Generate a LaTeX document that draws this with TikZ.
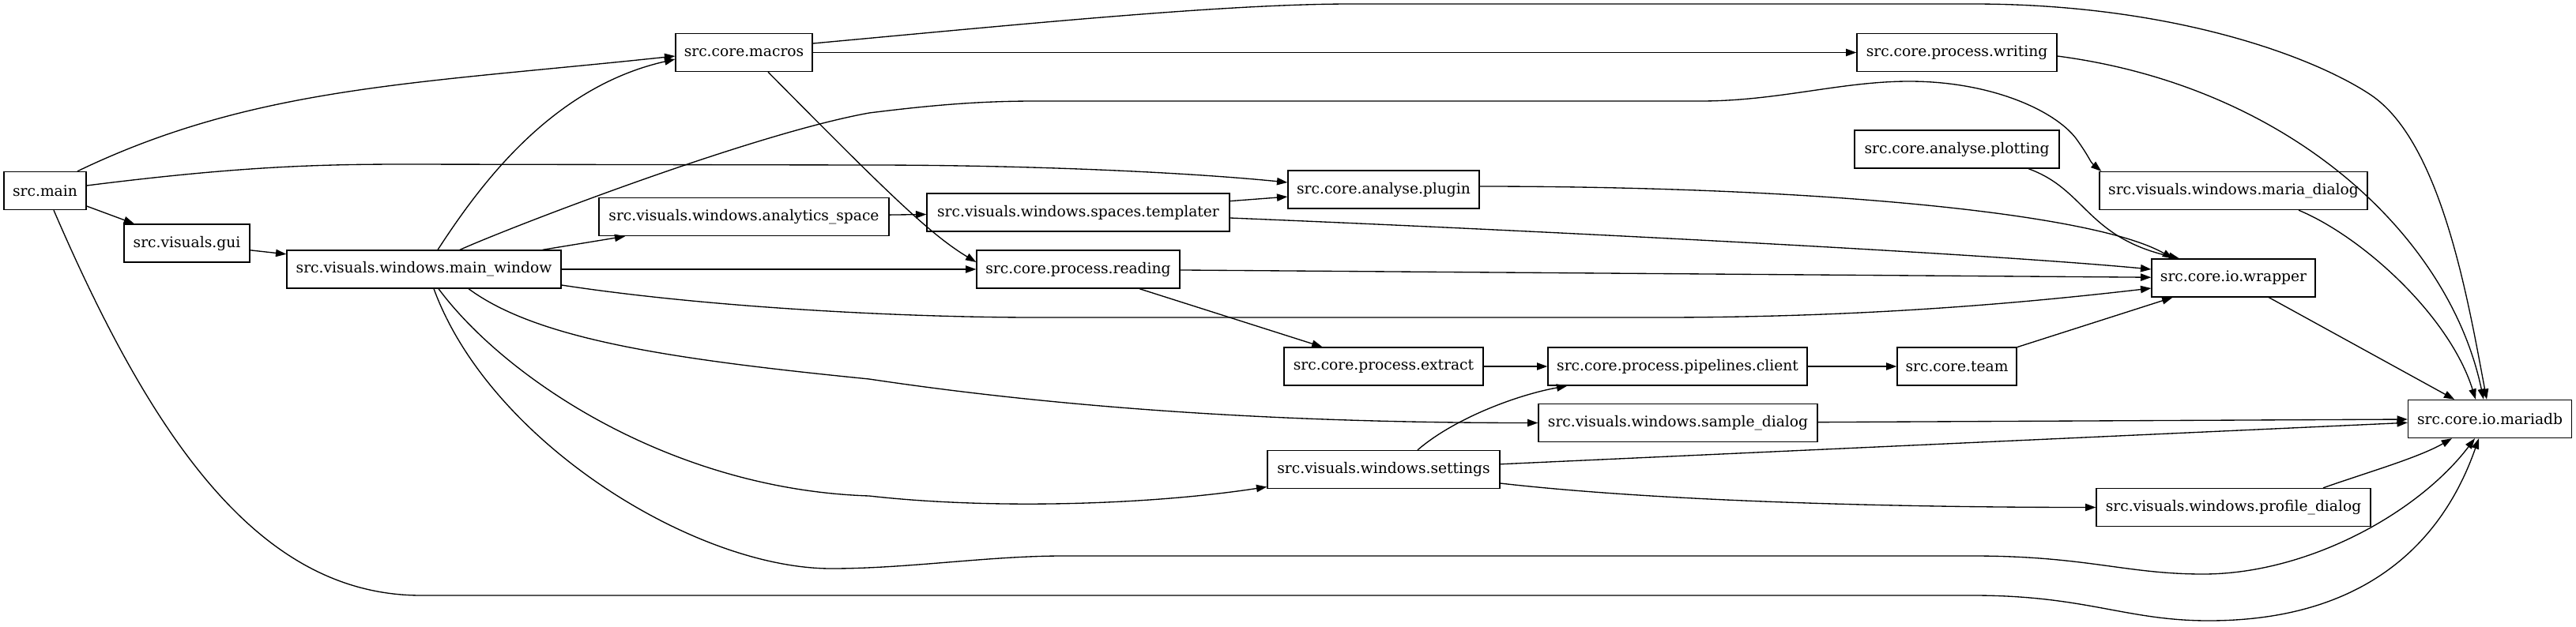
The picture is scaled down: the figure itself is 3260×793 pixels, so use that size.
\documentclass[tikz,border=0pt]{standalone}
\usepackage{fontspec}
\setmainfont{DejaVu Serif}
\usetikzlibrary{arrows.meta,calc}
\begin{document}
\begin{tikzpicture}[x=0.75pt,y=-0.75pt,
  box/.style={draw,line width=1pt,rectangle,minimum height=36pt,inner sep=0pt,font=\fontsize{14}{16}\selectfont},
  w/.style={minimum width=#1*0.75pt},
  edge/.style={line width=1pt,-{Triangle[length=10pt,width=7pt]}}]
\useasboundingbox (0,0) rectangle (3260,793);
% nodes
\node[box,w=104] (main) at (57,241.5) {src.main};
\node[box,w=159] (gui) at (236.5,308) {src.visuals.gui};
\node[box,w=347] (mainwin) at (536.5,341) {src.visuals.windows.main\_window};
\node[box,w=173] (macros) at (941.5,66.5) {src.core.macros};
\node[box,w=367] (analytics) at (941.5,274.5) {src.visuals.windows.analytics\_space};
\node[box,w=383] (templater) at (1364.5,269) {src.visuals.windows.spaces.templater};
\node[box,w=257] (reading) at (1364.5,341) {src.core.process.reading};
\node[box,w=242] (plugin) at (1751,240) {src.core.analyse.plugin};
\node[box,w=252] (extract) at (1751,464) {src.core.process.extract};
\node[box,w=294] (settings) at (1751,594.5) {src.visuals.windows.settings};
\node[box,w=328] (client) at (2123,464) {src.core.process.pipelines.client};
\node[box,w=353] (sample) at (2123.5,535.5) {src.visuals.windows.sample\_dialog};
\node[box,w=253] (writing) at (2476.5,66.5) {src.core.process.writing};
\node[box,w=259] (plotting) at (2476.5,189) {src.core.analyse.plotting};
\node[box,w=151] (team) at (2476.5,464) {src.core.team};
\node[box,w=339] (maria) at (2826.5,241.5) {src.visuals.windows.maria\_dialog};
\node[box,w=207] (wrapper) at (2826.5,352) {src.core.io.wrapper};
\node[box,w=347] (profile) at (2826.5,642.5) {src.visuals.windows.profile\_dialog};
\node[box,w=207] (mariadb) at (3151,530.5) {src.core.io.mariadb};
% edges from src.main
\draw[edge] ($(main.north)+(41,0)$) .. controls (322,109) and (527,106) .. ($(macros.west)+(0,4.5)$);
\draw[edge] ($(main.east)+(0,-6.5)$) .. controls (300,211) and (400,208) .. (512,208) -- (1100,209) .. controls (1300,209) and (1500,218) .. ($(plugin.west)+(0,-9)$);
\draw[edge] (main) -- (gui);
\draw[edge] ($(main.south)+(11,0)$) .. controls (197,566) and (333,754) .. (533,754) -- (2497,754) .. controls (2640,754) and (2690,786) .. (2795,786) .. controls (2990,786) and (3090,690) .. ($(mariadb.south)+(-14,0)$);
% gui
\draw[edge] (gui) -- (mainwin);
% main_window
\draw[edge] ($(mainwin.north)+(17.5,0)$) .. controls (610,230) and (700,110) .. ($(macros.west)+(0,8.5)$);
\draw[edge] ($(mainwin.north)+(45.5,0)$) .. controls (640,290) and (950,170) .. (1100,143) .. controls (1180,133) and (1240,128) .. (1310,128) -- (2152,128) .. controls (2250,128) and (2330,103) .. (2416,103) .. controls (2520,103) and (2600,140) .. (2627,175) .. controls (2645,200) and (2645,205) .. ($(maria.north west)+(3,0)$);
\draw[edge] (mainwin) -- (analytics);
\draw[edge] (mainwin) -- (reading);
\draw[edge] ($(mainwin.east)+(0,20)$) .. controls (900,390) and (1150,402) .. (1310,402) -- (2100,402) .. controls (2350,402) and (2550,385) .. ($(wrapper.west)+(0,13)$);
\draw[edge] ($(mainwin.south)+(56.5,0)$) .. controls (680,430) and (850,455) .. (1100,480) .. controls (1400,525) and (1700,535.5) .. (sample.west);
\draw[edge] ($(mainwin.south)+(18.5,0)$) .. controls (640,480) and (850,620) .. (1100,628) .. controls (1250,645) and (1450,640) .. ($(settings.west)+(0,22)$);
\draw[edge] ($(mainwin.south)+(12.5,0)$) .. controls (620,560) and (880,720) .. (1052,720) .. controls (1150,720) and (1250,704) .. (1345,704) -- (2497,704) .. controls (2640,704) and (2690,727) .. (2788,727) .. controls (2920,727) and (3060,650) .. ($(mariadb.south)+(-19,0)$);
% macros
\draw[edge] (macros) -- (writing);
\draw[edge] ($(macros.east)+(0,-11.5)$) .. controls (1300,30) and (1550,5) .. (1710,5) -- (2497,5) .. controls (2750,5) and (2928,72) .. (3000,120) .. controls (3090,180) and (3124,384) .. ($(mariadb.north)+(-4,0)$);
\draw[edge] ($(macros.south)+(30.5,0)$) .. controls (1122,243) and (1176,296) .. ($(reading.west)+(0,-9)$);
% analytics, templater, plugin, plotting
\draw[edge] (analytics) -- (templater);
\draw[edge] (templater) -- (plugin);
\draw[edge] ($(templater.east)+(0,7)$) .. controls (1900,290) and (2500,320) .. ($(wrapper.west)+(0,-11)$);
\draw[edge] ($(plugin.east)+(0,-4)$) .. controls (2300,236) and (2650,270) .. ($(wrapper.north)+(-76.5,0)$);
\draw[edge] ($(plotting.south)+(90.5,0)$) .. controls (2640,240) and (2640,300) .. ($(wrapper.north)+(-68.5,0)$);
% reading, extract, client, team
\draw[edge] (reading) -- (wrapper);
\draw[edge] (reading) -- (extract);
\draw[edge] (extract) -- (client);
\draw[edge] (client) -- (team);
\draw[edge] (team) -- (wrapper);
% settings
\draw[edge] ($(settings.north)+(43,0)$) .. controls (1840,530) and (1920,500) .. ($(client.south west)+(25,0)$);
\draw[edge] (settings) -- (mariadb);
\draw[edge] ($(settings.east)+(0,17.5)$) .. controls (2100,635) and (2400,642.5) .. (profile.west);
% to mariadb
\draw[edge] (sample) -- (mariadb);
\draw[edge] ($(profile.north)+(113.5,0)$) .. controls (2990,600) and (3060,580) .. ($(mariadb.south)+(-48,0)$);
\draw[edge] ($(writing.east)+(0,4.5)$) .. controls (2900,110) and (3100,300) .. ($(mariadb.north)+(-8,0)$);
\draw[edge] ($(maria.south)+(82.5,0)$) .. controls (2990,300) and (3100,400) .. ($(mariadb.north)+(-18,0)$);
\draw[edge] (wrapper) -- (mariadb);
\end{tikzpicture}
\end{document}
